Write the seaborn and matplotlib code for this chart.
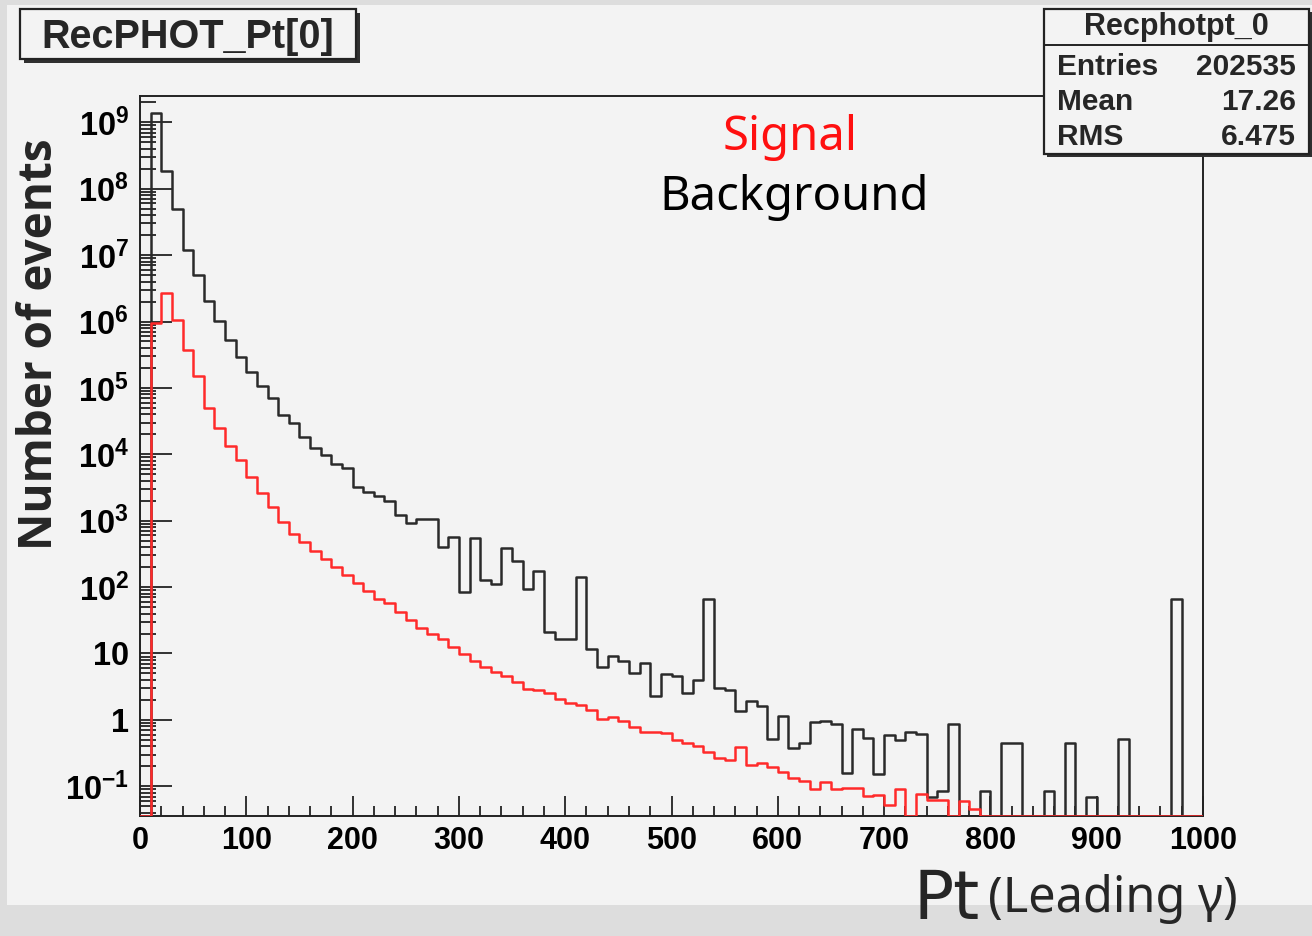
import numpy as np
import pandas as pd
import matplotlib
matplotlib.use("Agg")
import matplotlib.pyplot as plt
from matplotlib.patches import Rectangle
from matplotlib.lines import Line2D
from matplotlib.ticker import MultipleLocator, LogLocator, NullFormatter
import seaborn as sns

# ---------------------------------------------------------------- data
bin_edges = list(range(0, 1001, 10))          # 100 bins of 10 GeV

background_events = [
    0, 1.40e9, 1.87e8, 4.94e7, 1.18e7, 4.97e6, 2.01e6, 1.02e6, 5.27e5, 2.95e5,
    1.72e5, 1.07e5, 7.11e4, 3.91e4, 2.99e4, 1.80e4, 1.26e4, 9.75e3, 7.13e3, 6.22e3,
    3.25e3, 2.74e3, 2.38e3, 1.98e3, 1.22e3, 914, 1062, 1062, 406, 574,
    85.3, 555, 128, 111, 392, 247, 92.7, 175, 21.3, 16.4,
    16.4, 144, 11.7, 6.19, 9.27, 7.71, 5.04, 7.11, 2.29, 4.86,
    4.63, 2.57, 3.99, 66.2, 3.05, 2.82, 1.36, 1.95, 1.62, 0.515,
    1.16, 0.373, 0.445, 0.94, 0.97, 0.867, 0.157, 0.721, 0.528, 0.155,
    0.593, 0.50, 0.65, 0.607, 0.0682, 0.0851, 0.867, 0, 0, 0.0851,
    0, 0.445, 0.445, 0, 0, 0.0851, 0, 0.445, 0, 0.0682,
    0, 0, 0.515, 0, 0, 0, 0, 65.5, 0, 0,
]

signal_events = [
    0, 9.40e5, 2.72e6, 1.05e6, 3.75e5, 1.51e5, 5.04e4, 2.47e4, 1.33e4, 8.20e3,
    4.60e3, 2.59e3, 1.63e3, 946, 631, 483, 353, 262, 199, 152,
    116, 88.3, 66.8, 57.0, 42.7, 32.0, 24.0, 19.5, 16.4, 12.6,
    9.82, 7.80, 6.32, 5.21, 4.58, 3.68, 2.92, 2.82, 2.51, 2.04,
    1.82, 1.67, 1.41, 1.02, 1.12, 0.973, 0.774, 0.664, 0.664, 0.641,
    0.498, 0.445, 0.405, 0.332, 0.264, 0.249, 0.386, 0.209, 0.222, 0.197,
    0.163, 0.132, 0.121, 0.0912, 0.117, 0.0912, 0.0955, 0.0955, 0.0714, 0.0740,
    0.0522, 0.0902, 0, 0.0759, 0.0631, 0.0631, 0, 0.0603, 0.0457, 0,
    0, 0, 0, 0, 0, 0, 0, 0, 0, 0,
    0, 0, 0, 0, 0, 0, 0, 0, 0, 0,
]

x_ticks = [0, 100, 200, 300, 400, 500, 600, 700, 800, 900, 1000]
y_ticks = [1e-1, 1, 10, 1e2, 1e3, 1e4, 1e5, 1e6, 1e7, 1e8, 1e9]
y_tick_labels = [r"$10^{-1}$", "1", "10", r"$10^{2}$", r"$10^{3}$", r"$10^{4}$",
                 r"$10^{5}$", r"$10^{6}$", r"$10^{7}$", r"$10^{8}$", r"$10^{9}$"]

hist_title = "RecPHOT_Pt[0]"
stats_title = "Recphotpt_0"
stats_labels = ["Entries", "Mean", "RMS"]
stats_values = ["202535", "17.26", "6.475"]

# ---------------------------------------------------------------- style
sns.set_theme(style="ticks")
plt.rcParams["font.family"] = ["Liberation Sans", "DejaVu Sans"]
plt.rcParams["mathtext.default"] = "regular"

W, H = 1312, 936
Y_LOW, Y_HIGH = 0.0357, 2.49e9
CANVAS = "#f3f3f3"
INK = "#222222"
HAND = ["Noto Sans", "DejaVu Sans"]


def fx(px):
    return px / W


def fy(py):
    return 1 - py / H


fig = plt.figure(figsize=(W / 100, H / 100), dpi=100, facecolor="#dddddd")

# pad area of the canvas
fig.patches.append(Rectangle((fx(7), fy(905)), 1 - fx(7), fy(5) - fy(905),
                             transform=fig.transFigure, facecolor=CANVAS,
                             edgecolor="none", zorder=-10))

ax = fig.add_axes([fx(140), fy(816), fx(1203) - fx(140), fy(96) - fy(816)])
ax.set_facecolor(CANVAS)

centers = [e + 5 for e in bin_edges[:-1]]
frames = {
    "Background": (background_events, "#2a2a2a"),
    "Signal": (signal_events, "#ff2a2a"),
}
for name, (values, colour) in frames.items():
    # empty bins sit on the frame floor, as in a log-scale histogram frame
    shown = np.maximum(np.asarray(values, dtype=float), Y_LOW)
    df = pd.DataFrame({"pt": centers, "events": shown})
    sns.histplot(data=df, x="pt", weights="events", bins=bin_edges,
                 element="step", fill=False, color=colour, linewidth=1.8,
                 ax=ax, zorder=3 if name == "Signal" else 2)

ax.set_yscale("log")
ax.set_xlim(0, 1000)
ax.set_ylim(Y_LOW, Y_HIGH)
ax.set_xlabel("")
ax.set_ylabel("")

ax.set_xticks(x_ticks, [str(t) for t in x_ticks], fontsize=22,
              fontweight="bold", color="black")
ax.xaxis.set_minor_locator(MultipleLocator(20))
ax.set_yticks(y_ticks, y_tick_labels, fontsize=23.5, fontweight="bold",
              color="black")
ax.yaxis.set_minor_locator(LogLocator(base=10, subs=np.arange(2, 10), numticks=30))
ax.yaxis.set_minor_formatter(NullFormatter())

ax.tick_params(axis="x", which="major", direction="in", length=14.5, width=1.3,
               color=INK, pad=7, top=False)
ax.tick_params(axis="x", which="minor", direction="in", length=7.2, width=1.3,
               color=INK, top=False)
ax.tick_params(axis="y", which="major", direction="in", length=22.8, width=1.3,
               color=INK, pad=8, right=False)
ax.tick_params(axis="y", which="minor", direction="in", length=11.5, width=1.3,
               color=INK, right=False)
for sp in ax.spines.values():
    sp.set_color(INK)
    sp.set_linewidth(1.4)
ax.set_ylim(Y_LOW, Y_HIGH)

# axis titles
fig.text(fx(40), fy(344), "Number of events", rotation=90, ha="center",
         va="center", fontsize=33, fontweight="bold", family=["Open Sans", "DejaVu Sans"])
fig.text(fx(914), fy(919), "Pt", ha="left", va="baseline", fontsize=48,
         family=["DejaVu Sans"])
fig.text(fx(988), fy(912), "(Leading \u03b3)", ha="left", va="baseline", fontsize=35,
         family=HAND)

# legend-like labels
fig.text(fx(790), fy(150), "Signal", ha="center", va="baseline", fontsize=34,
         color="#ff1010", family=HAND)
fig.text(fx(794), fy(210), "Background", ha="center", va="baseline", fontsize=34,
         color="black", family=HAND)


def boxed(x0, y0, x1, y1, shadow=4):
    # framed box with a drop shadow, in pixel units
    fig.patches.append(Rectangle((fx(x0 + shadow), fy(y1 + shadow)), fx(x1) - fx(x0),
                                 fy(y0) - fy(y1), transform=fig.transFigure,
                                 facecolor="#303030", edgecolor="none", zorder=20))
    fig.patches.append(Rectangle((fx(x0), fy(y1)), fx(x1) - fx(x0), fy(y0) - fy(y1),
                                 transform=fig.transFigure, facecolor=CANVAS,
                                 edgecolor=INK, linewidth=1.6, zorder=21))


# histogram title box
boxed(20, 9, 356, 59)
fig.text(fx(188), fy(37), hist_title, ha="center", va="center", fontsize=28.5,
         fontweight="bold", zorder=30)

# statistics box
boxed(1044, 9, 1309, 154, shadow=3)
fig.lines.append(Line2D([fx(1044), fx(1309)], [fy(45), fy(45)],
                        transform=fig.transFigure, color=INK, linewidth=1.4, zorder=25))
fig.text(fx(1176), fy(27), stats_title, ha="center", va="center", fontsize=22,
         fontweight="bold", zorder=30)
for i, (lab, val) in enumerate(zip(stats_labels, stats_values)):
    yy = 67 + 35 * i
    fig.text(fx(1057), fy(yy), lab, ha="left", va="center", fontsize=21.5,
             fontweight="bold", zorder=30)
    fig.text(fx(1296), fy(yy), val, ha="right", va="center", fontsize=21.5,
             fontweight="bold", zorder=30)

fig.savefig("out.png", dpi=100, facecolor=fig.get_facecolor())
